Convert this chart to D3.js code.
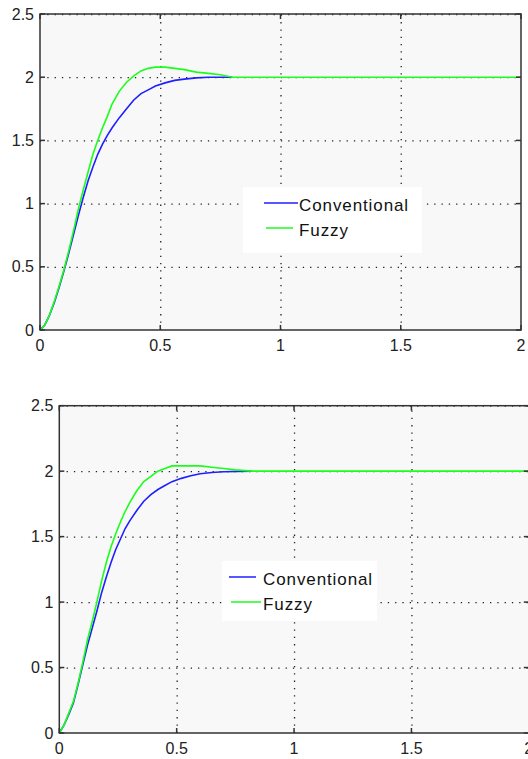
<!DOCTYPE html>
<html>
<head>
<meta charset="utf-8">
<script src="https://cdn.jsdelivr.net/npm/d3@7"></script>
<style>
    body { margin: 0; background: #fff; }
    svg { display: block; font-family: "Liberation Sans", Arial, sans-serif; }
</style>
</head>
<body>
<svg width="528" height="759"></svg>
<script>
// tick values and labels shared by both panels
var xTicks = [0, 0.5, 1, 1.5, 2];
var xTickLabels = ['0', '0.5', '1', '1.5', '2'];
var yTicks = [0, 0.5, 1, 1.5, 2, 2.5];
var yTickLabels = ['0', '0.5', '1', '1.5', '2', '2.5'];
var seriesNames = ['Conventional', 'Fuzzy'];

// upper panel
var timeTopConv = [0, 0.02, 0.04, 0.06, 0.08, 0.10, 0.12, 0.14, 0.16, 0.18, 0.20, 0.22, 0.24, 0.26, 0.28, 0.30,
    0.33, 0.36, 0.39, 0.42, 0.45, 0.48, 0.52, 0.56, 0.60, 0.65, 0.70, 0.80];
var conventionalTop = [0, 0.04, 0.12, 0.22, 0.34, 0.47, 0.61, 0.76, 0.91, 1.05, 1.18, 1.29, 1.39, 1.47, 1.54, 1.60,
    1.68, 1.75, 1.82, 1.87, 1.90, 1.93, 1.955, 1.975, 1.985, 1.995, 2.0, 2.0];
var timeTopFuzzy = [0, 0.02, 0.04, 0.06, 0.08, 0.10, 0.12, 0.14, 0.16, 0.18, 0.20, 0.22, 0.24, 0.26, 0.28, 0.30,
    0.33, 0.36, 0.39, 0.42, 0.45, 0.48, 0.52, 0.56, 0.60, 0.65, 0.70, 0.75, 0.80, 2.0];
var fuzzyTop = [0, 0.04, 0.12, 0.23, 0.35, 0.48, 0.63, 0.79, 0.96, 1.11, 1.25, 1.39, 1.50, 1.60, 1.69, 1.79,
    1.89, 1.96, 2.01, 2.05, 2.07, 2.08, 2.08, 2.07, 2.06, 2.04, 2.03, 2.02, 2.0, 2.0];

// lower panel
var timeBottomConv = [0, 0.02, 0.04, 0.06, 0.08, 0.10, 0.12, 0.14, 0.16, 0.18, 0.20, 0.22, 0.24, 0.26, 0.28, 0.30,
    0.33, 0.36, 0.39, 0.42, 0.45, 0.48, 0.52, 0.56, 0.60, 0.65, 0.70, 0.82];
var conventionalBottom = [0, 0.06, 0.14, 0.23, 0.37, 0.52, 0.67, 0.80, 0.93, 1.07, 1.19, 1.30, 1.40, 1.48, 1.56, 1.62,
    1.70, 1.77, 1.82, 1.86, 1.89, 1.92, 1.945, 1.965, 1.98, 1.99, 1.995, 2.0];
var timeBottomFuzzy = [0, 0.02, 0.04, 0.06, 0.08, 0.10, 0.12, 0.14, 0.16, 0.18, 0.20, 0.22, 0.24, 0.26, 0.28, 0.30,
    0.33, 0.36, 0.39, 0.42, 0.45, 0.48, 0.52, 0.56, 0.60, 0.65, 0.70, 0.75, 0.82, 2.0];
var fuzzyBottom = [0, 0.06, 0.15, 0.24, 0.38, 0.54, 0.71, 0.85, 1.0, 1.16, 1.30, 1.42, 1.52, 1.61, 1.69, 1.76,
    1.85, 1.92, 1.96, 2.00, 2.02, 2.04, 2.04, 2.04, 2.04, 2.03, 2.02, 2.01, 2.0, 2.0];

var COLORS = {conv: '#1f1fff', fuzzy: '#19ff19'};

function zip(ts, vs) {
    return ts.map(function (t, i) { return {t: t, v: vs[i]}; });
}

/**
 * draws one scope-like panel
 */
function drawPanel(svg, box, conv, fuzzy, legend) {
    var x = d3.scaleLinear().domain([0, 2]).range([box.left, box.right]);
    var y = d3.scaleLinear().domain([0, 2.5]).range([box.bottom, box.top]);
    var w = box.right - box.left, h = box.bottom - box.top;

    var g = svg.append('g');

    g.append('rect')
        .attr('x', box.left).attr('y', box.top)
        .attr('width', w).attr('height', h)
        .attr('fill', '#f8f8f8');

    // dotted grid
    var gx = g.append('g')
        .attr('transform', 'translate(0,' + box.bottom + ')')
        .call(d3.axisBottom(x).tickValues(xTicks.slice(1, -1)).tickSize(-h).tickFormat(''));
    var gy = g.append('g')
        .attr('transform', 'translate(' + box.left + ',0)')
        .call(d3.axisLeft(y).tickValues(yTicks.slice(1)).tickSize(-w).tickFormat(''));
    [gx, gy].forEach(function (a) {
        a.select('.domain').remove();
        a.selectAll('line')
            .attr('stroke', '#222')
            .attr('stroke-width', 1.3)
            .attr('stroke-dasharray', '1.3,6');
    });

    // legend box sits under the curves
    var lg = g.append('g');
    lg.append('rect')
        .attr('x', legend.x).attr('y', legend.y)
        .attr('width', legend.w).attr('height', legend.h)
        .attr('fill', '#fff');

    var line = d3.line()
        .x(function (d) { return x(d.t); })
        .y(function (d) { return y(d.v); });

    g.append('path').datum(conv)
        .attr('d', line).attr('fill', 'none')
        .attr('stroke', COLORS.conv).attr('stroke-width', 1.6);
    g.append('path').datum(fuzzy)
        .attr('d', line).attr('fill', 'none')
        .attr('stroke', COLORS.fuzzy).attr('stroke-width', 1.6);

    // legend entries
    var rows = [
        {name: seriesNames[0], color: COLORS.conv, x1: legend.l1[0], x2: legend.l1[1], y: legend.rows[0]},
        {name: seriesNames[1], color: COLORS.fuzzy, x1: legend.l2[0], x2: legend.l2[1], y: legend.rows[1]}
    ];
    rows.forEach(function (r) {
        lg.raise();
        lg.append('line')
            .attr('x1', r.x1).attr('x2', r.x2)
            .attr('y1', r.y - 2).attr('y2', r.y - 2)
            .attr('stroke', r.color).attr('stroke-width', 1.5);
        lg.append('text')
            .attr('x', legend.tx).attr('y', r.y)
            .attr('dy', '0.35em')
            .attr('font-size', 17)
            .attr('letter-spacing', 0.9)
            .attr('fill', '#111')
            .text(r.name);
    });

    // frame
    g.append('rect')
        .attr('x', box.left).attr('y', box.top)
        .attr('width', w).attr('height', h)
        .attr('fill', 'none')
        .attr('stroke', '#333').attr('stroke-width', 1.5);

    // inward ticks on all four sides
    var tk = 5;
    xTicks.forEach(function (t) {
        g.append('line').attr('x1', x(t)).attr('x2', x(t))
            .attr('y1', box.bottom).attr('y2', box.bottom - tk)
            .attr('stroke', '#333').attr('stroke-width', 1.5);
        g.append('line').attr('x1', x(t)).attr('x2', x(t))
            .attr('y1', box.top).attr('y2', box.top + tk)
            .attr('stroke', '#333').attr('stroke-width', 1.5);
    });
    yTicks.forEach(function (v) {
        g.append('line').attr('x1', box.left).attr('x2', box.left + tk)
            .attr('y1', y(v)).attr('y2', y(v))
            .attr('stroke', '#333').attr('stroke-width', 1.5);
        g.append('line').attr('x1', box.right).attr('x2', box.right - tk)
            .attr('y1', y(v)).attr('y2', y(v))
            .attr('stroke', '#333').attr('stroke-width', 1.5);
    });

    // tick labels
    g.selectAll('text.xl').data(xTicks).enter().append('text')
        .attr('class', 'xl')
        .attr('x', function (d) { return x(d); })
        .attr('y', box.bottom + 21)
        .attr('text-anchor', 'middle')
        .attr('font-size', 16)
        .attr('fill', '#222')
        .text(function (d, i) { return xTickLabels[i]; });
    g.selectAll('text.yl').data(yTicks).enter().append('text')
        .attr('class', 'yl')
        .attr('x', box.left - 6)
        .attr('y', function (d) { return y(d); })
        .attr('dy', '0.35em')
        .attr('text-anchor', 'end')
        .attr('font-size', 16)
        .attr('fill', '#222')
        .text(function (d, i) { return yTickLabels[i]; });
}

var svg = d3.select('svg');

drawPanel(svg, {left: 40, top: 14, right: 521, bottom: 330},
    zip(timeTopConv, conventionalTop), zip(timeTopFuzzy, fuzzyTop),
    {x: 243, y: 187, w: 179, h: 66, l1: [264, 298], l2: [266, 293], tx: 299, rows: [205, 230]});

drawPanel(svg, {left: 59.3, top: 405.7, right: 528.8, bottom: 733},
    zip(timeBottomConv, conventionalBottom), zip(timeBottomFuzzy, fuzzyBottom),
    {x: 222, y: 561, w: 155, h: 60, l1: [229, 256], l2: [231, 261], tx: 263, rows: [579, 604]});
</script>
</body>
</html>
